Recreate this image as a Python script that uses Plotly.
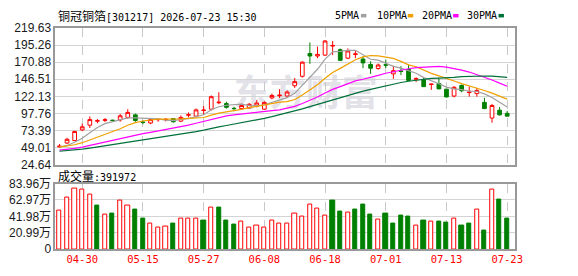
import plotly.graph_objects as go
import pandas as pd

# ---------------- data ----------------
dates = ["04-27", "04-28", "04-29", "04-30", "05-06", "05-07", "05-08", "05-11", "05-12", "05-13",
         "05-14", "05-15", "05-18", "05-19", "05-20", "05-21", "05-22", "05-25", "05-26", "05-27",
         "05-28", "05-29", "06-01", "06-02", "06-03", "06-04", "06-05", "06-08", "06-09", "06-10",
         "06-11", "06-12", "06-15", "06-16", "06-17", "06-18", "06-22", "06-23", "06-24", "06-25",
         "06-26", "06-29", "06-30", "07-01", "07-02", "07-03", "07-06", "07-07", "07-08", "07-09",
         "07-10", "07-13", "07-14", "07-15", "07-16", "07-17", "07-20", "07-21", "07-22", "07-23"]

opens = [50.3, 55.7, 59.2, 74.4, 81.1, 86.8, 88.0, 88.3, 88.6, 92.2,
         95.8, 85.6, 84.2, 88.9, 88.8, 90.5, 86.9, 95.3, 94.0, 102.0,
         103.9, 113.0, 111.9, 105.2, 104.7, 105.6, 108.3, 103.9, 119.9, 123.0,
         122.6, 137.3, 150.7, 183.2, 179.6, 180.9, 193.8, 188.6, 176.5, 181.8,
         175.2, 167.6, 161.8, 167.2, 154.2, 158.3, 160.5, 146.6, 145.7, 139.0,
         140.4, 132.4, 122.6, 137.7, 127.5, 126.1, 113.6, 91.3, 102.5, 98.0]
highs = [54.3, 63.2, 73.1, 83.3, 93.6, 90.0, 91.3, 88.9, 97.2, 103.9,
         97.6, 87.8, 90.9, 91.3, 91.0, 91.3, 94.9, 99.3, 104.7, 108.3,
         123.4, 128.0, 114.6, 107.3, 111.9, 112.5, 117.2, 114.8, 126.1, 132.4,
         130.6, 148.4, 172.1, 198.9, 193.0, 202.3, 201.0, 190.3, 190.3, 187.6,
         178.8, 172.1, 168.9, 174.5, 165.8, 165.1, 167.2, 149.4, 148.4, 139.9,
         148.4, 132.6, 136.8, 139.1, 136.0, 134.1, 120.3, 111.4, 106.9, 101.6]
lows = [49.0, 54.4, 58.8, 72.6, 77.1, 83.8, 85.5, 87.2, 86.0, 90.5,
        85.9, 82.5, 82.5, 86.0, 86.5, 84.6, 85.5, 92.2, 92.2, 95.8,
        102.0, 111.0, 104.7, 101.2, 103.9, 104.5, 106.5, 103.0, 118.1, 119.9,
        120.7, 134.1, 148.8, 168.5, 176.5, 179.6, 180.9, 172.5, 175.2, 176.5,
        162.2, 154.2, 160.1, 162.5, 147.1, 152.4, 144.4, 142.7, 135.6, 131.4,
        132.5, 120.8, 120.7, 128.0, 121.7, 121.7, 104.5, 84.6, 94.9, 93.8]
closes = [51.2, 61.0, 72.2, 78.8, 89.1, 87.6, 88.8, 87.8, 94.5, 99.3,
          87.8, 85.0, 89.1, 89.3, 89.4, 86.0, 92.2, 96.0, 102.9, 102.6,
          121.7, 113.8, 106.5, 104.7, 109.2, 110.9, 112.7, 113.6, 123.4, 123.8,
          128.3, 143.1, 170.8, 179.6, 181.9, 201.0, 194.6, 173.4, 186.8, 182.6,
          169.8, 162.2, 166.8, 166.5, 158.7, 157.6, 144.8, 147.3, 136.0, 139.6,
          132.8, 121.3, 135.0, 130.1, 128.2, 130.6, 104.7, 109.2, 95.8, 94.0]
volumes_wan = [49.9, 66.5, 77.5, 76.3, 70.2, 55.6, 44.6, 45.9, 61.7, 55.6,
               51.1, 38.9, 32.4, 28.0, 28.8, 32.9, 38.5, 38.5, 39.7, 36.5,
               53.1, 53.1, 36.5, 31.6, 34.9, 28.0, 30.0, 28.0, 36.1, 32.4,
               32.4, 45.9, 41.4, 56.8, 52.0, 43.4, 62.1, 47.5, 47.1, 51.1,
               57.2, 43.8, 37.4, 45.0, 32.9, 42.6, 41.4, 30.0, 36.5, 34.9,
               35.3, 34.1, 38.5, 30.4, 32.9, 50.7, 24.3, 76.3, 63.3, 39.1972]

# moving-average values visible before a full window exists
ma5_head = [50.1, 52.3, 56.8, 62.6]
ma10_head = [49.9, 51.1, 53.3, 56.2, 60.1, 63.9, 67.8, 71.6, 76.1]
ma20_head = [45.6, 46.6, 48.2, 50.0, 52.4, 54.7, 57.1, 59.4, 62.1, 65.0,
             67.3, 69.1, 71.0, 73.0, 75.0, 76.8, 78.9, 81.2, 83.9]
ma30_head = [44.0, 44.7, 45.7, 47.0, 48.6, 50.2, 51.8, 53.3, 55.1, 57.1,
             58.6, 60.1, 61.7, 63.3, 64.9, 66.4, 68.1, 69.9, 72.0, 74.0,
             76.7, 78.8, 80.7, 82.5, 84.5, 86.6, 88.7, 90.8, 93.2]

price_ticks = [24.64, 49.01, 73.39, 97.76, 122.13, 146.51, 170.88, 195.26, 219.63]
vol_ticks = [0, 20.99, 41.98, 62.97, 83.96]
label_dates = ["04-30", "05-15", "05-27", "06-08", "06-18", "07-01", "07-13", "07-23"]

title_name = "铜冠铜箔"
title_rest = "[301217] 2026-07-23 15:30"
ma_names = ["5PMA", "10PMA", "20PMA", "30PMA"]

# ---------------- styles ----------------
RED = "#ff0000"
GREEN = "#008000"
MA_COLORS = ["#a0a0a0", "#f0a000", "#ff00ff", "#00703a"]
W, H = 578, 276
PX_L, PX_R = 56, 522
PRICE_TOP, PRICE_BOT = 22, 166.3
VOL_TOP, VOL_BOT = 186, 255
MONO = "DejaVu Sans Mono"
CJK = "Noto Sans CJK SC"

xs = list(range(len(dates)))
s = pd.Series(closes)


def moving_avg(n, head):
    roll = s.rolling(n).mean().round(3).tolist()
    return head + roll[len(head):]


mas = [moving_avg(5, ma5_head), moving_avg(10, ma10_head),
       moving_avg(20, ma20_head), moving_avg(30, ma30_head)]

# volume colour: close vs previous close
vol_up = [True] + [closes[i] >= closes[i - 1] for i in range(1, len(closes))]

fig = go.Figure()

fig.add_trace(go.Candlestick(
    x=xs, open=opens, high=highs, low=lows, close=closes,
    increasing=dict(line=dict(color=RED, width=1), fillcolor="white"),
    decreasing=dict(line=dict(color=GREEN, width=1), fillcolor=GREEN),
    whiskerwidth=0, xaxis="x", yaxis="y", showlegend=False, hoverinfo="skip"))

for vals, col in zip(mas, MA_COLORS):
    fig.add_trace(go.Scatter(x=xs, y=vals, mode="lines", line=dict(color=col, width=1.2),
                             xaxis="x", yaxis="y", showlegend=False, hoverinfo="skip"))

fig.add_trace(go.Bar(
    x=xs, y=volumes_wan, width=0.55,
    marker=dict(color=["white" if u else GREEN for u in vol_up],
                line=dict(color=[RED if u else GREEN for u in vol_up], width=1)),
    xaxis="x2", yaxis="y2", showlegend=False, hoverinfo="skip"))

label_idx = [dates.index(d) for d in label_dates]
xrange = [-0.56, len(dates)]

common_x = dict(domain=[PX_L / W, PX_R / W], range=xrange, tickvals=label_idx,
                showgrid=True, gridcolor="#c8c8c8", griddash="dash", gridwidth=1,
                showline=True, mirror=True, linecolor="#999999", linewidth=1.5,
                zeroline=False, ticks="", fixedrange=True)

fig.update_layout(
    width=W, height=H, margin=dict(l=0, r=0, t=0, b=0),
    paper_bgcolor="white", plot_bgcolor="white", bargap=0,
    xaxis=dict(**common_x, anchor="y", showticklabels=False,
               rangeslider=dict(visible=False)),
    xaxis2=dict(**common_x, anchor="y2", ticktext=label_dates, showticklabels=True,
                tickfont=dict(family=MONO, size=10.5, color=RED)),
    yaxis=dict(domain=[1 - PRICE_BOT / H, 1 - PRICE_TOP / H],
               range=[price_ticks[0], price_ticks[-1]], tickvals=price_ticks,
               ticktext=["%.2f" % v for v in price_ticks],
               showgrid=True, gridcolor="#d4d4d4", showline=True, mirror=True,
               linecolor="#999999", linewidth=1.5, zeroline=False, ticks="",
               tickfont=dict(family="Liberation Sans", size=12, color="#1a1a1a")),
    yaxis2=dict(domain=[1 - VOL_BOT / H, 1 - VOL_TOP / H],
                range=[vol_ticks[0], vol_ticks[-1]], tickvals=vol_ticks,
                ticktext=["0"] + ["%.2f万" % v for v in vol_ticks[1:]],
                showgrid=True, gridcolor="#d4d4d4", showline=True, mirror=True,
                linecolor="#999999", linewidth=1.5, zeroline=False, ticks="",
                tickfont=dict(family="Liberation Sans, " + CJK, size=12, color="#1a1a1a")),
)

annotations = []
shapes = []

# title
annotations.append(dict(
    x=57 / W, y=1 - 8.5 / H, xref="paper", yref="paper", xanchor="left", yanchor="middle",
    showarrow=False,
    text=f"<span style=\"font-family:'{CJK}';font-size:12px\">{title_name}</span>{title_rest}",
    font=dict(family=MONO, size=10, color="#000000")))

# legend
leg_text_x = [338, 380, 426, 472]
leg_box_x = [366, 413.5, 459.5, 505.5]
for name, col, tx, bx in zip(ma_names, MA_COLORS, leg_text_x, leg_box_x):
    annotations.append(dict(x=tx / W, y=1 - 9 / H, xref="paper", yref="paper",
                            xanchor="left", yanchor="middle", showarrow=False,
                            text=name, font=dict(family=MONO, size=10, color="#000000")))
    shapes.append(dict(type="rect", xref="paper", yref="paper",
                       x0=bx / W, x1=(bx + 5.5) / W, y0=1 - 11 / H, y1=1 - 7.3 / H,
                       fillcolor=col, line=dict(width=0)))

# volume caption
annotations.append(dict(
    x=57 / W, y=1 - 177 / H, xref="paper", yref="paper", xanchor="left", yanchor="middle",
    showarrow=False,
    text=f"<span style=\"font-family:'{CJK}';font-size:12px\">成交量</span>:{round(volumes_wan[-1] * 10000)}",
    font=dict(family=MONO, size=10, color="#000000")))

# watermark
shapes.append(dict(type="rect", xref="paper", yref="paper", layer="below",
                   x0=235 / W, x1=385 / W, y0=1 - 115 / H, y1=1 - 72 / H,
                   line=dict(width=0), fillcolor="rgba(0,0,0,0)",
                   label=dict(text="<b>东方财富</b>",
                              font=dict(family=CJK, size=36, color="#e2e2e8"))))

fig.update_layout(annotations=annotations, shapes=shapes)

fig.write_html("out.html")
